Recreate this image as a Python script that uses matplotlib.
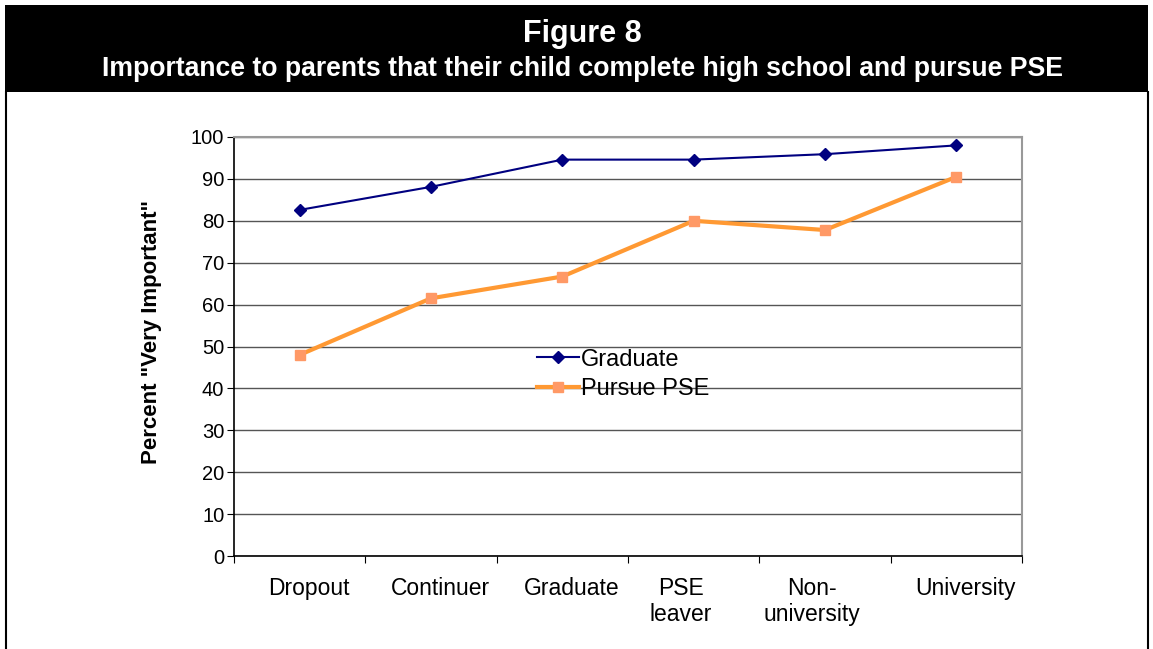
import matplotlib

matplotlib.use("Agg")
import matplotlib.pyplot as plt
from matplotlib.patches import Rectangle
from matplotlib.transforms import ScaledTranslation

plt.rcParams["font.family"] = ["Liberation Sans", "DejaVu Sans"]

categories = ["Dropout", "Continuer", "Graduate", "PSE\nleaver", "Non-\nuniversity", "University"]
graduate = [82.6, 88.1, 94.6, 94.6, 95.9, 98.0]
pursue_pse = [48.0, 61.5, 66.7, 80.0, 77.8, 90.5]
y_ticks = list(range(0, 101, 10))

W, H = 1153, 649
fig = plt.figure(figsize=(W / 100, H / 100), dpi=100)

# black banner with the figure heading, plus thin side borders
fig.add_artist(Rectangle((5 / W, 1 - 92 / H), 1143 / W, 87 / H,
                         transform=fig.transFigure, facecolor="black", edgecolor="none"))
fig.add_artist(plt.Line2D([5.5 / W, 5.5 / W], [0, 1 - 92 / H], transform=fig.transFigure,
                          color="black", lw=1.5))
fig.add_artist(plt.Line2D([1147.5 / W, 1147.5 / W], [0, 1 - 92 / H], transform=fig.transFigure,
                          color="black", lw=1.5))
fig.text(582 / W, 1 - 34 / H, "Figure 8", color="white", fontsize=22, fontweight="bold",
         ha="center", va="center")
fig.text(582 / W, 1 - 69 / H,
         "Importance to parents that their child complete high school and pursue PSE",
         color="white", fontsize=19.2, fontweight="bold", ha="center", va="center")

ax = fig.add_axes([234 / W, 1 - 556 / H, (1022 - 234) / W, (556 - 137) / H])
x = [i + 0.5 for i in range(len(categories))]

ax.plot(x, graduate, color="#000080", lw=1.5, marker="D", markersize=6,
        markerfacecolor="#000080", markeredgecolor="#000080", label="Graduate", zorder=3)
ax.plot(x, pursue_pse, color="#FF9933", lw=3, marker="s", markersize=7,
        markerfacecolor="#FF9966", markeredgecolor="#FF9966", label="Pursue PSE", zorder=3)

ax.set_xlim(0, len(categories))
ax.set_ylim(0, 100)
ax.set_yticks(y_ticks)
ax.set_yticklabels([str(v) for v in y_ticks], fontsize=14.5)
ax.set_xticks(range(len(categories) + 1))
ax.set_xticklabels([])
ax.set_xticks(x, minor=True)
ax.set_xticklabels(categories, minor=True, fontsize=16.5, va="top", linespacing=1.2)
ax.tick_params(axis="x", which="minor", length=0, pad=15)
ax.tick_params(axis="x", which="major", length=5, direction="out", color="black")
ax.tick_params(axis="y", length=5, direction="out", color="black", pad=2)

# single-line names sit right of their slot centres, wrapped ones left of them
for lbl in ax.get_xticklabels(minor=True):
    dx = -13 if "\n" in lbl.get_text() else 9
    lbl.set_transform(lbl.get_transform() + ScaledTranslation(dx / 100, 0, fig.dpi_scale_trans))

ax.yaxis.grid(True, color="#555555", lw=1)
ax.set_axisbelow(True)
for side in ("top", "right"):
    ax.spines[side].set_color("#999999")
    ax.spines[side].set_linewidth(1.5)
for side in ("left", "bottom"):
    ax.spines[side].set_color("black")
    ax.spines[side].set_linewidth(1.2)

ax.set_ylabel('Percent "Very Important"', fontsize=16, fontweight="bold")
ax.yaxis.set_label_coords(-0.091, 0.535)

ax.legend(loc="center left", bbox_to_anchor=(0.37, 0.433), frameon=False, fontsize=17,
          handlelength=1.75, handletextpad=0.1, labelspacing=0.33, borderpad=0)

fig.savefig("out.png", dpi=100)
